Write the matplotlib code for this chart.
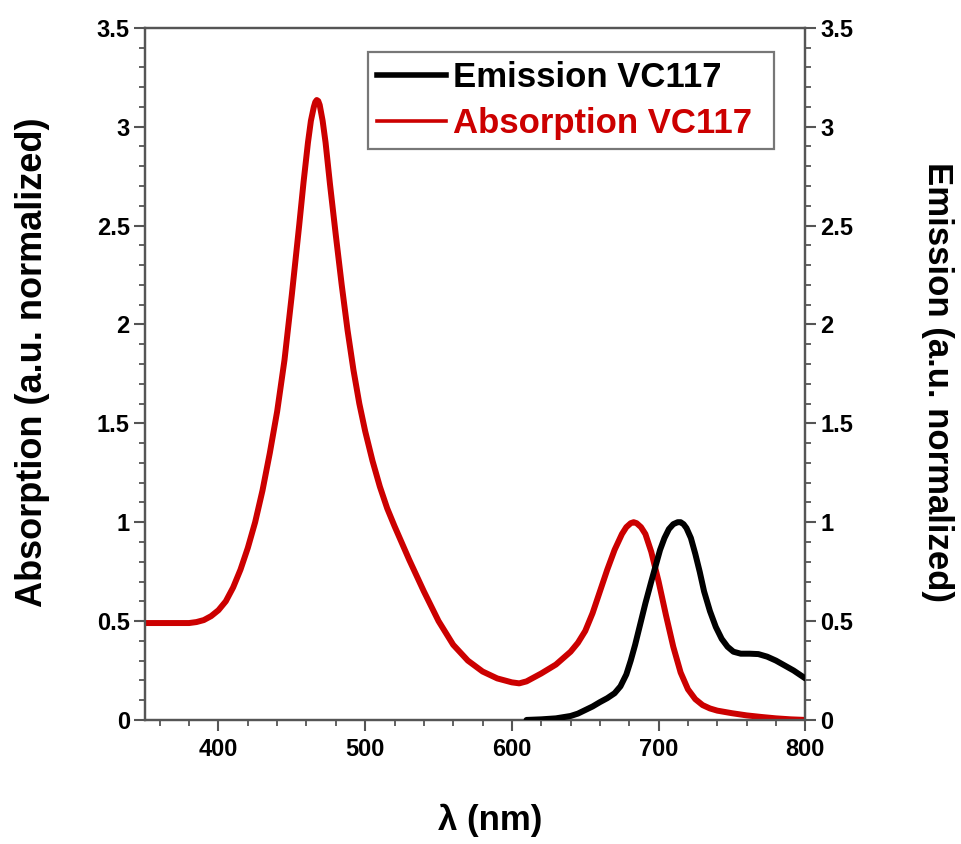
import matplotlib.pyplot as plt
from matplotlib.ticker import MultipleLocator, FuncFormatter
from matplotlib.lines import Line2D

plt.rcParams['font.family'] = ['Liberation Sans', 'DejaVu Sans']
plt.rcParams['font.weight'] = 'bold'

# absorption spectrum (left axis)
abs_nm = [350, 360, 370, 380, 385, 390, 395, 400, 405, 410, 415, 420, 425, 430, 435, 440,
          445, 450, 455, 458, 461, 463, 465, 466, 467, 468, 469, 471, 473, 476, 480, 484,
          488, 492, 496, 500, 505, 510, 515, 520, 530, 540, 550, 560, 570, 580, 590, 600,
          605, 610, 620, 630, 640, 645, 650, 655, 660, 665, 670, 675, 678, 681, 683, 685,
          688, 691, 695, 700, 705, 710, 715, 720, 725, 730, 735, 740, 750, 760, 770, 780,
          790, 800]
abs_val = [0.49, 0.49, 0.49, 0.49, 0.495, 0.505, 0.525, 0.555, 0.60, 0.67, 0.76, 0.87, 1.00, 1.16, 1.35, 1.56,
           1.82, 2.15, 2.50, 2.72, 2.92, 3.03, 3.10, 3.125, 3.135, 3.13, 3.11, 3.03, 2.92, 2.71, 2.45, 2.20,
           1.97, 1.77, 1.60, 1.46, 1.31, 1.18, 1.07, 0.98, 0.81, 0.65, 0.50, 0.38, 0.30, 0.245, 0.21, 0.19,
           0.185, 0.195, 0.235, 0.28, 0.345, 0.39, 0.45, 0.54, 0.65, 0.76, 0.86, 0.94, 0.975, 0.995, 1.0, 0.995,
           0.975, 0.94, 0.85, 0.70, 0.53, 0.37, 0.24, 0.155, 0.105, 0.075, 0.058, 0.047, 0.034, 0.023, 0.015, 0.008,
           0.003, 0.0]

# emission spectrum (right axis)
em_nm = [610, 620, 630, 640, 645, 650, 655, 660, 665, 670, 674, 678, 681, 684, 688, 691,
         695, 698, 701, 704, 707, 710, 713, 715, 717, 719, 722, 725, 728, 731, 735, 739, 743,
         747, 751, 756, 762, 768, 774, 780, 786, 792, 798, 800]
em_val = [0.0, 0.003, 0.008, 0.02, 0.032, 0.05, 0.068, 0.09, 0.11, 0.135, 0.17, 0.23, 0.30, 0.38, 0.50, 0.59,
          0.70, 0.78, 0.86, 0.92, 0.965, 0.99, 1.0, 1.0, 0.99, 0.97, 0.92, 0.84, 0.75, 0.65, 0.55, 0.47, 0.41,
          0.37, 0.345, 0.335, 0.335, 0.333, 0.32, 0.30, 0.275, 0.25, 0.22, 0.21]

red = '#cc0000'
spine_col = '#555555'

fig = plt.figure(figsize=(9.61, 8.44), dpi=100)
ax = fig.add_axes([0.151, 0.147, 0.687, 0.820])
ax2 = ax.twinx()

ax.plot(abs_nm, abs_val, color=red, lw=4.3, solid_capstyle='round', solid_joinstyle='round', zorder=3)
ax2.plot(em_nm, em_val, color='black', lw=4.3, solid_capstyle='round', solid_joinstyle='round', zorder=3)

fmt = FuncFormatter(lambda v, p: '%g' % v)
for a in (ax, ax2):
    a.set_xlim(350, 800)
    a.set_ylim(0, 3.5)
    a.yaxis.set_major_locator(MultipleLocator(0.5))
    a.yaxis.set_minor_locator(MultipleLocator(0.1))
    a.yaxis.set_major_formatter(fmt)
    for s in a.spines.values():
        s.set_color(spine_col)
        s.set_linewidth(1.6)
    a.tick_params(axis='y', which='major', direction='out', length=8, width=1.5,
                  color=spine_col, labelsize=17, pad=3)
    a.tick_params(axis='y', which='minor', direction='out', length=4, width=1.3, color=spine_col)

ax.xaxis.set_major_locator(MultipleLocator(100))
ax.xaxis.set_minor_locator(MultipleLocator(20))
ax.tick_params(axis='x', which='major', direction='out', length=8, width=1.5,
               color=spine_col, labelsize=17, pad=5)
ax.tick_params(axis='x', which='minor', direction='out', length=4, width=1.3, color=spine_col)
ax.tick_params(top=False, which='both')

ax.set_xlabel('λ (nm)', fontsize=25, fontweight='bold', labelpad=31)
ax.xaxis.label.set_x(0.523)
ax.set_ylabel('Absorption (a.u. normalized)', fontsize=26, fontweight='bold', labelpad=34)
ax.yaxis.label.set_y(0.517)
ax2.set_ylabel('Emission (a.u. normalized)', fontsize=25, fontweight='bold',
               rotation=270, labelpad=72)
ax2.yaxis.label.set_y(0.488)

handles = [Line2D([0], [0], color='black', lw=4),
           Line2D([0], [0], color=red, lw=2.6)]
leg = ax2.legend(handles, ['Emission VC117', 'Absorption VC117'],
                 loc='upper left', bbox_to_anchor=(0.338, 0.765, 0.614, 0.2),
                 mode='expand', frameon=True, fancybox=False, handlelength=2.0,
                 handletextpad=0.2, borderpad=0.25, labelspacing=0.38,
                 borderaxespad=0, prop={'weight': 'bold', 'size': 25})
leg.get_frame().set_edgecolor('#555555')
leg.get_frame().set_linewidth(1.6)
leg.get_texts()[1].set_color(red)

fig.savefig('out.png', dpi=100)
